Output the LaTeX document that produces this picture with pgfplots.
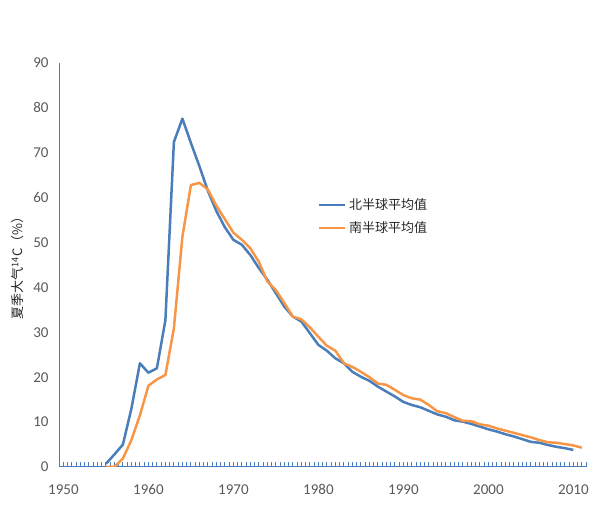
\documentclass[border=0pt]{standalone}
\usepackage{pgfplots}
\pgfplotsset{compat=1.18}
\usepackage{pgfplotstable}
\usepackage{fontspec}
\setmainfont{Carlito}
\newfontfamily\cjk{Noto Sans CJK SC}
\definecolor{nblue}{HTML}{4A7EBB}
\definecolor{sorange}{HTML}{F79646}
\definecolor{axblue}{HTML}{4A7EBB}
\definecolor{tickgrey}{HTML}{595959}
\definecolor{leggrey}{HTML}{262626}

\pgfplotstableread{
year val
1955 0.7
1956 2.8
1957 5.0
1958 13.0
1959 23.1
1960 21.0
1961 22.0
1962 32.7
1963 72.4
1964 77.6
1965 72.2
1966 67.0
1967 61.5
1968 57.0
1969 53.4
1970 50.6
1971 49.5
1972 47.2
1973 44.3
1974 41.7
1975 38.7
1976 35.7
1977 33.5
1978 32.4
1979 29.8
1980 27.2
1981 25.9
1982 24.2
1983 23.1
1984 21.2
1985 20.1
1986 19.2
1987 17.9
1988 16.8
1989 15.7
1990 14.5
1991 13.8
1992 13.3
1993 12.5
1994 11.7
1995 11.2
1996 10.4
1997 10.1
1998 9.6
1999 9.0
2000 8.4
2001 7.9
2002 7.3
2003 6.8
2004 6.2
2005 5.6
2006 5.4
2007 4.9
2008 4.5
2009 4.2
2010 3.8
}\north

\pgfplotstableread{
year val
1955 0.0
1956 0.0
1957 1.9
1958 6.0
1959 11.5
1960 18.1
1961 19.5
1962 20.5
1963 30.9
1964 51.3
1965 62.8
1966 63.3
1967 61.8
1968 58.2
1969 55.2
1970 52.2
1971 50.6
1972 48.7
1973 45.7
1974 41.3
1975 39.4
1976 36.5
1977 33.5
1978 32.9
1979 31.1
1980 29.0
1981 27.0
1982 25.9
1983 23.1
1984 22.3
1985 21.2
1986 20.0
1987 18.6
1988 18.3
1989 17.2
1990 16.0
1991 15.3
1992 15.0
1993 13.8
1994 12.4
1995 12.0
1996 11.1
1997 10.3
1998 10.2
1999 9.5
2000 9.2
2001 8.6
2002 8.1
2003 7.6
2004 7.1
2005 6.6
2006 6.0
2007 5.5
2008 5.4
2009 5.1
2010 4.8
2011 4.3
}\south

\begin{document}
\begin{tikzpicture}
\path[use as bounding box] (-60pt,-38pt) rectangle (538pt,467pt);
\begin{axis}[
  at={(0pt,0pt)}, anchor=south west,
  scale only axis, width=527pt, height=404pt,
  xmin=1949.6, xmax=2011.6, ymin=0, ymax=90,
  axis x line*=bottom, axis y line*=left,
  axis line style={draw=axblue, line width=1pt},
  xtick={1950,1960,...,2010},
  minor xtick={1950,1950.5,...,2011.5},
  ytick={0,10,...,90},
  major tick length=0pt,
  minor tick length=4.5pt,
  tick align=inside,
  minor tick style={draw=axblue, line width=0.8pt},
  ytick style={draw=none},
  /pgf/number format/1000 sep={},
  /pgf/number format/assume math mode=true,
  tick label style={font=\fontsize{15}{18}\selectfont, text=tickgrey},
  xticklabel style={yshift=-14pt},
  yticklabel style={xshift=-8pt},
  ylabel={\cjk\fontsize{13}{15}\selectfont 夏季大气\textsuperscript{14}C（\%）},
  every axis y label/.style={at={(axis description cs:-0.08,0.5)}, rotate=90, anchor=center, text=leggrey},
  legend style={draw=none, fill=none, at={(axis description cs:0.4896,0.667)}, anchor=north west,
    inner sep=0pt, outer sep=0pt, row sep=8.5pt,
    font=\cjk\fontsize{13}{15}\selectfont, text=leggrey,
    nodes={inner xsep=3pt, inner ysep=1pt}},
  legend cell align=left,
  legend image code/.code={\draw[#1, line width=2pt] (0pt,0pt) -- (26pt,0pt);},
]
\addplot[color=nblue, line width=2.5pt, line join=round] table[x=year, y=val] {\north};
\addlegendentry{北半球平均值}
\addplot[color=sorange, line width=2.5pt, line join=round] table[x=year, y=val] {\south};
\addlegendentry{南半球平均值}
\end{axis}
\end{tikzpicture}
\end{document}
